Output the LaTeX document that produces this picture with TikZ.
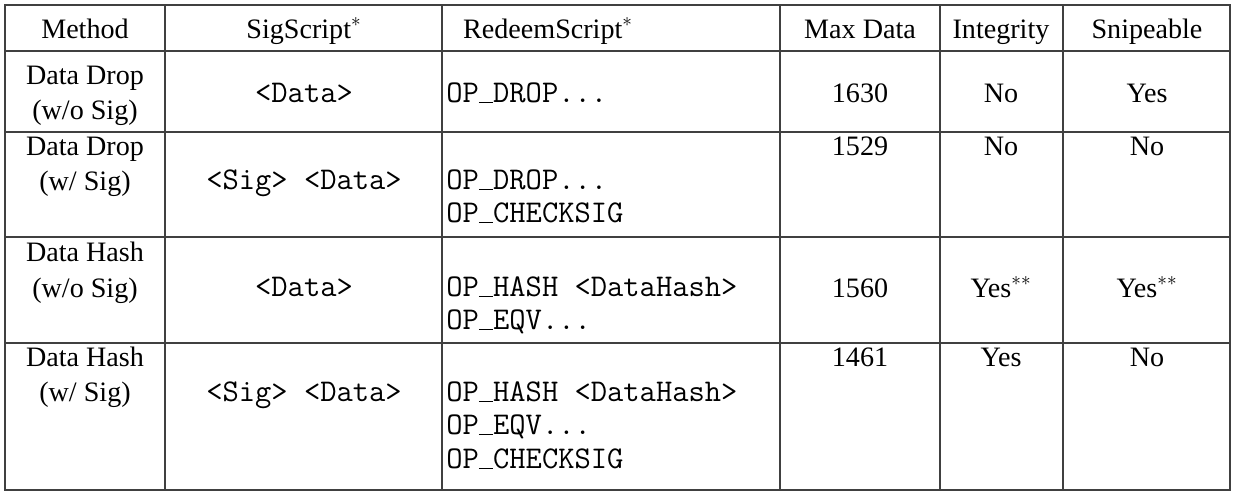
\documentclass[tikz,border=0pt]{standalone}
\usepackage{fontspec}
\setmainfont{Liberation Serif}
\usepackage{tikz}
\usetikzlibrary{positioning}
\newcommand{\us}{\rule[-0.5pt]{0.45em}{0.5pt}}

\begin{document}
\begin{tikzpicture}[x=0.02cm, y=-0.02cm,
    txt/.style={inner sep=0pt, anchor=base, font=\fontsize{16}{18}\selectfont},
    code/.style={inner sep=0pt, anchor=base west, font=\fontsize{18}{18}\ttfamily},
    grid/.style={draw=black!75, line width=0.9pt}]
    \useasboundingbox (0,0) rectangle (1236,495);

    % Table frame and rules
    \draw[grid] (5,5) rectangle (1230,490);
    \foreach \yy in {51,132,237,343} \draw[grid] (5,\yy) -- (1230,\yy);
    \foreach \xx in {165,442,780,940,1063} \draw[grid] (\xx,5) -- (\xx,490);

    % Header
    \node[txt] (hmethod) at (85,38) {Method};
    \node[txt] (hsig) at (304,38) {SigScript$^*$};
    \node[txt] (hredeem) at (548,38) {RedeemScript$^*$};
    \node[txt] (hmax) at (860,38) {Max Data};
    \node[txt] (hint) at (1001,38) {Integrity};
    \node[txt] (hsnipe) at (1147,38) {Snipeable};

    % Data Drop (w/o Sig)
    \node[txt] (ma1) at (85,84) {Data Drop};
    \node[txt] (mb1) at (85,119) {(w/o Sig)};
    \node[code, anchor=base] (sig1) at (304,102) {<Data>};
    \node[code] (ra1) at (446,102) {OP\us DROP...};
    \node[txt] (max1) at (860,102) {1630};
    \node[txt] (int1) at (1001,102) {No};
    \node[txt] (snp1) at (1147,102) {Yes};

    % Data Drop (w/ Sig)
    \node[txt] (ma2) at (85,155) {Data Drop};
    \node[txt] (mb2) at (85,190) {(w/ Sig)};
    \node[code, anchor=base] (sig2) at (304,189) {<Sig> <Data>};
    \node[code] (ra2) at (446,189) {OP\us DROP...};
    \node[code] (rb2) at (446,222) {OP\us CHECKSIG};
    \node[txt] (max2) at (860,155) {1529};
    \node[txt] (int2) at (1001,155) {No};
    \node[txt] (snp2) at (1147,155) {No};

    % Data Hash (w/o Sig)
    \node[txt] (ma3) at (85,261) {Data Hash};
    \node[txt] (mb3) at (85,297) {(w/o Sig)};
    \node[code, anchor=base] (sig3) at (304,296) {<Data>};
    \node[code] (ra3) at (446,296) {OP\us HASH <DataHash>};
    \node[code] (rb3) at (446,329) {OP\us EQV...};
    \node[txt] (max3) at (860,297) {1560};
    \node[txt] (int3) at (1001,297) {Yes$^{**}$};
    \node[txt] (snp3) at (1147,297) {Yes$^{**}$};

    % Data Hash (w/ Sig)
    \node[txt] (ma4) at (85,366) {Data Hash};
    \node[txt] (mb4) at (85,401) {(w/ Sig)};
    \node[code, anchor=base] (sig4) at (304,401) {<Sig> <Data>};
    \node[code] (ra4) at (446,401) {OP\us HASH <DataHash>};
    \node[code] (rb4) at (446,434) {OP\us EQV...};
    \node[code] (rc4) at (446,468) {OP\us CHECKSIG};
    \node[txt] (max4) at (860,366) {1461};
    \node[txt] (int4) at (1001,366) {Yes};
    \node[txt] (snp4) at (1147,366) {No};
\end{tikzpicture}
\end{document}
